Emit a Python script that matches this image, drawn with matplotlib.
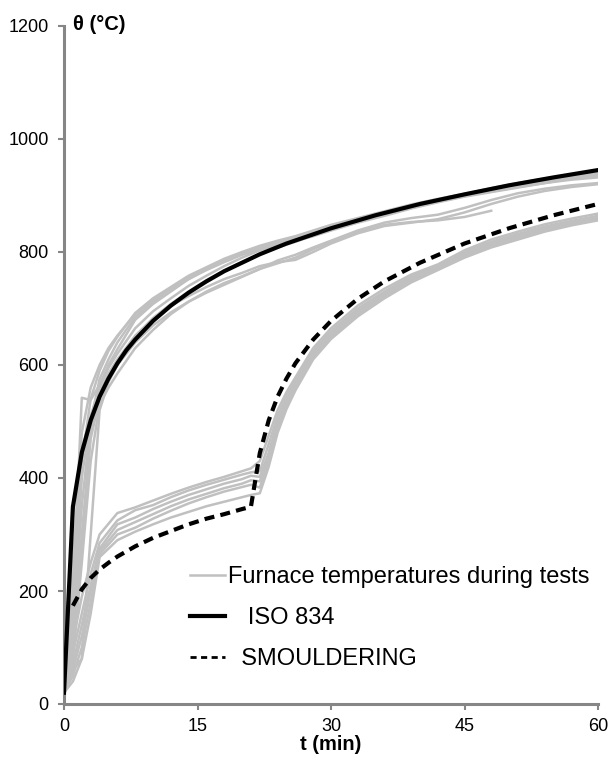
import matplotlib
matplotlib.use('Agg')
import matplotlib.pyplot as plt
import numpy as np
from matplotlib.lines import Line2D

plt.rcParams['font.family'] = ['Liberation Sans', 'DejaVu Sans']

# Standard fire curve ISO 834 (time in min, temperature in degC)
iso_t = [0, 1, 2, 3, 4, 5, 6, 7, 8, 10, 12, 14, 16, 18, 20, 22, 25, 30,
         35, 40, 45, 50, 55, 60]
iso_temp = [20, 349, 445, 502, 544, 576, 603, 626, 645, 678, 705, 728, 748,
            766, 781, 796, 815, 842, 865, 885, 902, 918, 932, 945]

# Smouldering fire curve
smo_t = [1, 2, 3, 4, 5, 6, 8, 10, 12, 14, 16, 18, 20, 21, 22, 23, 24, 25,
         26, 28, 30, 33, 36, 40, 45, 50, 55, 60]
smo_temp = [174, 203, 223, 238, 250, 261, 279, 294, 306, 318, 328, 336, 345,
            349, 444, 502, 544, 576, 603, 645, 678, 717, 748, 781, 815, 842,
            865, 885]

# Furnace records, tests run with the ISO 834 curve
nan = np.nan
furnace_iso_t = [0, 1, 2, 3, 4, 5, 6, 8, 10, 12, 14, 16, 18, 20, 22, 24, 26,
                 28, 30, 33, 36, 39, 42, 45, 48, 51, 54, 57, 60]
furnace_iso_runs = [
    [20, 210, 430, 540, 590, 625, 650, 692, 718, 738, 758, 773, 788, 800, 811,
     820, 828, 838, 848, 860, 872, 884, 894, 903, 913, 922, 930, 936, 940],
    [20, 190, 542, 538, 565, 600, 628, 680, 708, 730, 752, 770, 784, 798, 808,
     818, 827, 836, 846, 858, 870, 882, 892, 901, 910, 918, 926, 932, 936],
    [20, 150, 400, 510, 560, 595, 620, 665, 695, 718, 740, 758, 775, 790, 803,
     813, 823, 833, 843, 856, 868, 879, 890, 900, 909, 918, 926, 932, 937],
    [20, 60, 80, 300, 520, 570, 600, 650, 683, 708, 730, 750, 767, 782, 796,
     808, 818, 829, 840, 853, 866, 878, 889, 899, 908, 917, 925, 931, 935],
    [20, 100, 300, 470, 540, 575, 600, 640, 670, 693, 712, 728, 742, 756, 770,
     780, 790, 805, 818, 835, 848, 853, 856, 862, 873, nan, nan, nan, nan],
    [20, 80, 250, 430, 530, 560, 585, 630, 662, 690, 712, 730, 745, 757, 770,
     785, 795, 808, 820, 838, 852, 860, 866, 878, 892, 904, 912, 918, 922],
    [20, 130, 350, 500, 575, 610, 640, 685, 712, 735, 755, 771, 785, 797, 806,
     815, 824, 834, 845, 858, 869, 880, 890, 899, 907, 915, 922, 928, 932],
    [20, 250, 480, 560, 600, 630, 652, 690, 716, 735, 752, 768, 782, 795, 805,
     812, 820, 828, 838, 852, 864, 877, 888, 898, 906, 914, 922, 930, 936],
    [20, 110, 280, 480, 550, 585, 610, 652, 682, 705, 722, 738, 752, 763, 775,
     782, 786, 800, 815, 833, 846, 852, 858, 870, 885, 898, 908, 915, 920],
]

# Furnace records, tests run with the smouldering curve
furnace_smo_t = [0, 1, 2, 3, 4, 6, 8, 10, 12, 14, 16, 18, 20, 21, 22, 23, 24,
                 25, 26, 28, 30, 33, 36, 39, 42, 45, 48, 51, 54, 57, 60]
furnace_smo_runs = [
    [20, 110, 190, 250, 300, 338, 348, 360, 372, 383, 393, 402, 412, 417, 430,
     475, 520, 552, 578, 630, 665, 705, 735, 760, 778, 803, 822, 836, 849, 859,
     868],
    [20, 90, 160, 230, 285, 325, 343, 352, 366, 378, 388, 397, 406, 410, 412,
     460, 510, 545, 572, 625, 660, 700, 730, 757, 776, 800, 818, 832, 845, 855,
     864],
    [20, 70, 140, 210, 275, 318, 330, 345, 358, 370, 380, 390, 398, 404, 402,
     445, 500, 538, 566, 620, 657, 697, 727, 754, 773, 797, 815, 830, 843, 853,
     862],
    [20, 60, 120, 200, 270, 308, 322, 336, 350, 362, 372, 382, 390, 396, 394,
     440, 495, 532, 562, 618, 654, 694, 725, 752, 771, 795, 813, 827, 840, 851,
     860],
    [20, 50, 100, 180, 265, 300, 312, 328, 342, 355, 366, 376, 384, 388, 383,
     430, 490, 528, 558, 614, 650, 690, 722, 750, 769, 793, 810, 824, 838, 849,
     858],
    [20, 40, 80, 160, 260, 290, 305, 318, 330, 340, 350, 358, 366, 370, 373,
     420, 480, 522, 555, 610, 646, 686, 718, 746, 768, 790, 808, 822, 836, 847,
     856],
]

x_ticks = [0, 15, 30, 45, 60]
y_ticks = [0, 200, 400, 600, 800, 1000, 1200]

W, H = 610, 760
fig = plt.figure(figsize=(W / 100, H / 100), dpi=100)
ax = fig.add_axes([64 / W, 1 - 704 / H, (598 - 64) / W, (704 - 26) / H])

gray = '#c0c0c0'
axis_col = '#868686'

for run in furnace_iso_runs:
    ax.plot(furnace_iso_t, run, color=gray, lw=1.8, zorder=2)
for run in furnace_smo_runs:
    ax.plot(furnace_smo_t, run, color=gray, lw=1.8, zorder=2)

ax.plot(iso_t, iso_temp, color='black', lw=3, zorder=4)
ax.plot(smo_t, smo_temp, color='black', lw=3, dashes=(2.4, 1.5), zorder=4)

ax.set_xlim(0, 60)
ax.set_ylim(0, 1200)
ax.set_xticks(x_ticks)
ax.set_yticks(y_ticks)

for side in ['top', 'right']:
    ax.spines[side].set_visible(False)
for side in ['left', 'bottom']:
    ax.spines[side].set_color(axis_col)
    ax.spines[side].set_linewidth(2.2)
ax.tick_params(axis='both', direction='out', length=4, width=1.5,
               color=axis_col, labelsize=13, labelcolor='black')
ax.tick_params(axis='y', pad=7)
ax.tick_params(axis='x', pad=6)

ax.set_xlabel('t (min)', fontsize=14.5, fontweight='bold')
ax.xaxis.set_label_coords(0.5, -(744 - 704) / (704 - 26))
ax.xaxis.label.set_va('center')
ax.set_ylabel('θ (°C)', fontsize=14.5, fontweight='bold', rotation=0)
ax.yaxis.set_label_coords((73 - 64) / (598 - 64), (704 - 24) / (704 - 26))
ax.yaxis.label.set_ha('left')
ax.yaxis.label.set_va('center')

handles = [
    Line2D([], [], color=gray, lw=1.8),
    Line2D([], [], color='black', lw=3),
    Line2D([], [], color='black', lw=2, dashes=(2.2, 1.6)),
]
labels = ['Furnace temperatures during tests', '   ISO 834', '  SMOULDERING']
ax.legend(handles, labels, loc='center left', frameon=False, fontsize=17,
          bbox_to_anchor=(190 / W, 1 - 618 / H),
          bbox_transform=fig.transFigure, borderpad=0, borderaxespad=0,
          handlelength=1.48, handletextpad=0.15, labelspacing=0.8)

fig.savefig('out.png', dpi=100)
